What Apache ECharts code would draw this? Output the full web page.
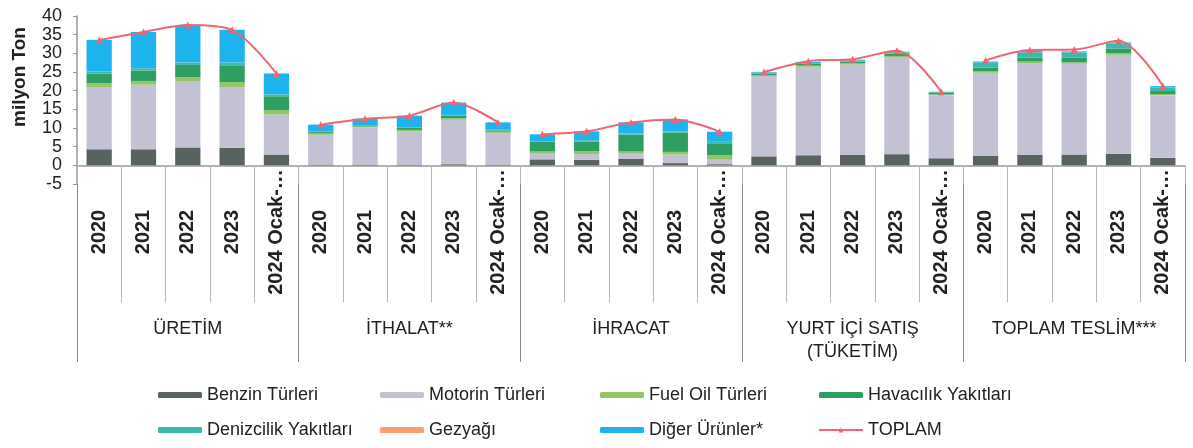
<!DOCTYPE html>
<html>
<head>
<meta charset="utf-8">
<script src="https://cdn.jsdelivr.net/npm/echarts@6/dist/echarts.min.js"></script>
<style>
  html, body { margin: 0; padding: 0; background: #fff; }
  #chart { width: 1193px; height: 448px; }
</style>
</head>
<body>
<div id="chart"></div>
<script>
// gruplar ve yıllar
const groupNames = ["ÜRETİM", "İTHALAT**", "İHRACAT", "YURT İÇİ SATIŞ\n(TÜKETİM)", "TOPLAM TESLİM***"];
const yearLabels = ["2020", "2021", "2022", "2023", "2024 Ocak-…"];
const yTicks = { min: -5, max: 40, interval: 5 };

// milyon ton, her grup için 5 değer
const benzin = [4.3, 4.3, 4.8, 4.7, 2.9, 0.2, 0.2, 0.2, 0.3, 0.2, 1.6, 1.5, 1.8, 0.6, 0.3, 2.4, 2.7, 2.8, 3.0, 1.9, 2.5, 2.8, 2.9, 3.1, 2.0];
const motorin = [16.7, 17.3, 17.6, 16.3, 10.7, 8.0, 10.0, 8.9, 11.9, 8.5, 1.5, 1.5, 1.3, 2.3, 1.2, 21.5, 23.7, 24.2, 26.0, 16.9, 22.3, 24.6, 24.3, 26.5, 16.8];
const fuelOil = [1.0, 1.0, 1.2, 1.3, 1.2, 0.3, 0.2, 0.4, 0.4, 0.3, 0.6, 0.8, 0.6, 0.7, 1.2, 0.3, 0.3, 0.3, 0.3, 0.2, 0.4, 0.4, 0.4, 0.4, 0.3];
const havacilik = [2.6, 2.8, 3.3, 4.5, 3.7, 0.4, 0.3, 0.5, 0.7, 0.3, 2.6, 2.5, 4.5, 5.2, 3.2, 0.4, 0.5, 0.5, 0.6, 0.4, 1.0, 1.1, 1.2, 1.3, 0.8];
const denizcilik = [0.5, 0.6, 0.6, 0.7, 0.5, 0.1, 0.1, 0.2, 0.2, 0.2, 0.2, 0.4, 0.3, 0.3, 0.4, 0.2, 0.2, 0.2, 0.3, 0.2, 1.3, 1.4, 1.4, 1.3, 1.0];
const gezyagi = [0.02, 0.02, 0.02, 0.02, 0.01, 0.01, 0.01, 0.01, 0.01, 0.01, 0.01, 0.01, 0.01, 0.01, 0.01, 0.02, 0.02, 0.02, 0.02, 0.01, 0.02, 0.02, 0.02, 0.02, 0.01];
const diger = [8.5, 9.7, 10.1, 8.8, 5.6, 1.9, 1.7, 3.1, 3.3, 2.0, 1.8, 2.4, 3.0, 3.2, 2.7, 0.2, 0.3, 0.3, 0.2, 0.1, 0.3, 0.3, 0.3, 0.3, 0.3];
const toplam = [33.6, 35.7, 37.6, 36.3, 24.6, 10.9, 12.5, 13.3, 16.8, 11.5, 8.3, 9.1, 11.5, 12.3, 9.0, 25.0, 27.9, 28.4, 30.7, 19.7, 28.1, 30.9, 31.0, 33.4, 21.3];

const categories = [];
groupNames.forEach((g, gi) => yearLabels.forEach((y) => categories.push(gi + "|" + y)));

const FONT = "Liberation Sans";
const stackDefs = [
  { name: "Benzin Türleri", data: benzin, color: "#58625f" },
  { name: "Motorin Türleri", data: motorin, color: "#c3c2d5" },
  { name: "Fuel Oil Türleri", data: fuelOil, color: "#93c568" },
  { name: "Havacılık Yakıtları", data: havacilik, color: "#2f9e62" },
  { name: "Denizcilik Yakıtları", data: denizcilik, color: "#3cb8ae" },
  { name: "Gezyağı", data: gezyagi, color: "#f5a26d" },
  { name: "Diğer Ürünler*", data: diger, color: "#1db3ec" },
];

const myChart = echarts.init(document.getElementById("chart"));
let series = [];
stackDefs.forEach((s) => {
  series.push({
    name: s.name,
    type: "bar",
    stack: "total",
    xAxisIndex: 0,
    barWidth: "57%",
    itemStyle: { color: s.color },
    data: s.data,
  });
});
groupNames.forEach((g, gi) => {
  series.push({
    name: "TOPLAM",
    type: "line",
    xAxisIndex: 0,
    smooth: 0.3,
    symbol: "triangle",
    symbolSize: 7,
    lineStyle: { color: "#ef6672", width: 2 },
    itemStyle: { color: "#ef6672" },
    z: 5,
    data: toplam.map((v, i) => (Math.floor(i / 5) === gi ? v : "-")),
  });
});

const legendText = { fontFamily: FONT, fontSize: 18, color: "#222" };
const legendCols = [
  ["Benzin Türleri", "Denizcilik Yakıtları"],
  ["Motorin Türleri", "Gezyağı"],
  ["Fuel Oil Türleri", "Diğer Ürünler*"],
  ["Havacılık Yakıtları", "TOPLAM"],
];
const legendLeft = [158, 380, 600, 818];

const option = {
  backgroundColor: "#fff",
  animation: false,
  grid: { left: 77, right: 8, top: 16, bottom: 264 },
  legend: legendCols.map((col, i) => ({
    data: col,
    orient: "vertical",
    left: legendLeft[i],
    top: 386,
    padding: 0,
    itemGap: 17,
    itemWidth: 44,
    itemHeight: 6,
    textStyle: legendText,
  })),
  xAxis: [
    {
      type: "category",
      data: categories,
      position: "bottom",
      axisLine: { show: true, onZero: true, lineStyle: { color: "#9a9a9a", width: 1.5 } },
      axisTick: { show: true, interval: 0, length: 137, lineStyle: { color: "#b5b5b5", width: 1 } },
      axisLabel: {
        interval: 0,
        rotate: 90,
        align: "center",
        verticalAlign: "middle",
        margin: 48,
        fontFamily: FONT,
        fontSize: 20,
        fontWeight: "bold",
        color: "#222",
        formatter: (v) => v.split("|")[1],
      },
    },
    {
      type: "category",
      data: groupNames,
      position: "bottom",
      axisLine: { show: false, onZero: false },
      axisTick: { show: true, interval: 0, length: 178, lineStyle: { color: "#8a8a8a", width: 1 } },
      axisLabel: {
        interval: 0,
        margin: 134,
        verticalAlign: "top",
        fontFamily: FONT,
        fontSize: 18,
        lineHeight: 23,
        color: "#222",
      },
    },
  ],
  yAxis: {
    type: "value",
    min: yTicks.min,
    max: yTicks.max,
    interval: yTicks.interval,
    name: "milyon Ton",
    nameLocation: "middle",
    nameGap: 48,
    nameTextStyle: {
      fontFamily: FONT,
      fontSize: 19,
      fontWeight: "bold",
      color: "#222",
      padding: [0, 0, 0, 46],
    },
    axisLine: { show: true, lineStyle: { color: "#9a9a9a", width: 1.5 } },
    axisTick: { show: true, length: 4, lineStyle: { color: "#9a9a9a" } },
    axisLabel: { fontFamily: FONT, fontSize: 18, color: "#222", margin: 15 },
    splitLine: { show: false },
  },
  series: series,
};
myChart.setOption(option);
</script>
</body>
</html>
